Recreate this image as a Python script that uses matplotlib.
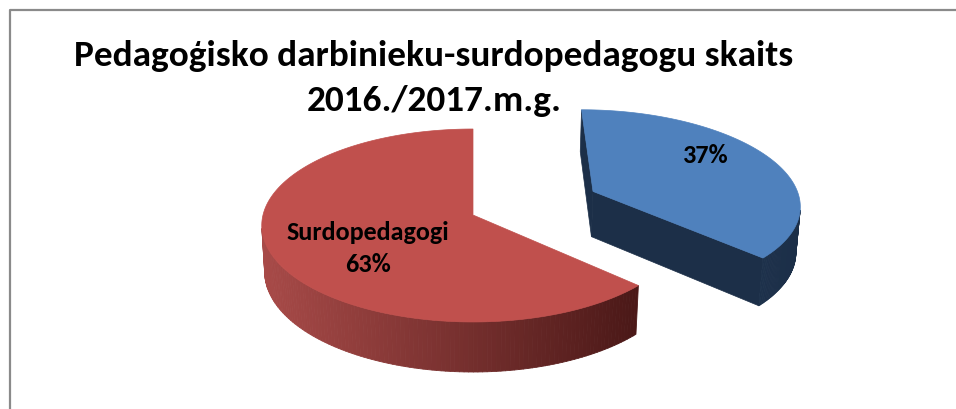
import numpy as np
import matplotlib
matplotlib.use("Agg")
import matplotlib.pyplot as plt
from matplotlib.collections import PolyCollection
from matplotlib.colors import to_rgb

# data
values = [37, 63]
names = ["", "Surdopedagogi"]
explode = [0.64, 0.0]
top_colors = ["#4F81BD", "#C0504D"]
side_light = ["#22395A", "#A84A48"]
side_dark = ["#1C2F48", "#4A1817"]
title_lines = ["Pedagoģisko darbinieku-surdopedagogu skaits", "2016./2017.m.g."]

plt.rcParams["font.family"] = ["Carlito", "DejaVu Sans"]

W, H = 956, 409
fig = plt.figure(figsize=(W / 100, H / 100), dpi=100)
ax = fig.add_axes([0, 0, 1, 1])
ax.set_xlim(0, W)
ax.set_ylim(H, 0)
ax.axis("off")

# 3d view of the pie
elev = np.arcsin(0.454)
dist, focal = 8.2, 1722.0
cx, cy = 473.0, 215.0
thick = 0.25
sn, cs = np.sin(elev), np.cos(elev)
cam = np.array([0.0, -dist * cs, dist * sn])


def project(x, y, z):
    vy = y + dist * cs
    vz = z - dist * sn
    depth = vy * cs - vz * sn
    up = vy * sn + vz * cs
    return cx + focal * x / depth, cy - focal * up / depth


def grad(c1, c2, f):
    a, b = np.array(to_rgb(c1)), np.array(to_rgb(c2))
    return tuple(a + (b - a) * f)


start = 90.0
total = sum(values)
slices = []
t1 = start
for i, v in enumerate(values):
    t2 = t1 - v / total * 360.0
    slices.append((i, t2, t1))
    t1 = t2

for i, a0, a1 in slices:
    mid = np.radians((a0 + a1) / 2)
    ox, oy = explode[i] * np.cos(mid), explode[i] * np.sin(mid)
    t = np.radians(np.linspace(a0, a1, 200))
    rx, ry = ox + np.cos(t), oy + np.sin(t)

    # cut faces
    for ang, sgn in ((a1, 1), (a0, -1)):
        r = np.radians(ang)
        n = np.array([-np.sin(r), np.cos(r), 0.0]) * sgn
        if np.dot(cam - np.array([ox, oy, 0.0]), n) > 1e-6:
            ex, ey = ox + np.cos(r), oy + np.sin(r)
            pts = [project(ox, oy, 0), project(ex, ey, 0),
                   project(ex, ey, -thick), project(ox, oy, -thick)]
            ax.add_patch(plt.Polygon(pts, closed=True, fc=side_dark[i],
                                     ec=side_dark[i], lw=0.5))

    # outer side, shaded across the view
    polys, cols = [], []
    xs_all = [project(rx[k], ry[k], 0)[0] for k in range(len(t))]
    xmin, xmax = min(xs_all), max(xs_all)
    for k in range(len(t) - 1):
        tm = (t[k] + t[k + 1]) / 2
        n = np.array([np.cos(tm), np.sin(tm), 0.0])
        p = np.array([ox + np.cos(tm), oy + np.sin(tm), 0.0])
        if np.dot(cam - p, n) <= 0:
            continue
        q = [project(rx[k], ry[k], 0), project(rx[k + 1], ry[k + 1], 0),
             project(rx[k + 1], ry[k + 1], -thick), project(rx[k], ry[k], -thick)]
        f = (q[0][0] - xmin) / max(xmax - xmin, 1)
        polys.append(q)
        cols.append(grad(side_light[i], side_dark[i], f))
    ax.add_collection(PolyCollection(polys, facecolors=cols, edgecolors=cols, linewidths=0.6))

    # top face
    top = [project(ox, oy, 0)] + [project(rx[k], ry[k], 0) for k in range(len(t))]
    ax.add_patch(plt.Polygon(top, closed=True, fc=top_colors[i], ec=top_colors[i], lw=0.5))

# labels
pct = [f"{round(v / total * 100)}%" for v in values]
ax.text(705, 163, pct[0], ha="center", va="baseline", fontsize=18.8, fontweight="bold")
ax.text(368, 240, names[1], ha="center", va="baseline", fontsize=18.8, fontweight="bold")
ax.text(368, 272, pct[1], ha="center", va="baseline", fontsize=18.8, fontweight="bold")

# title
ax.text(434, 66, title_lines[0], ha="center", va="baseline", fontsize=26.8, fontweight="bold")
ax.text(434, 111, title_lines[1], ha="center", va="baseline", fontsize=26.8, fontweight="bold")

# chart area border
ax.plot([10.5, 10.5, W], [H, 9.5, 9.5], color="#8a8a8a", lw=1.6, solid_capstyle="butt")

fig.savefig("out.png", dpi=100)
